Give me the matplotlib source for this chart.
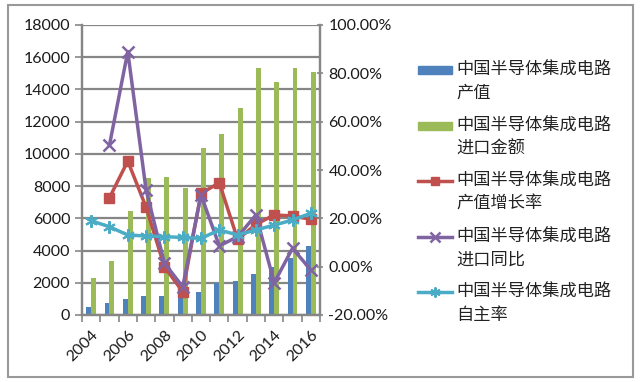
import matplotlib
matplotlib.use("Agg")
import matplotlib.pyplot as plt
import numpy as np
from matplotlib.patches import Rectangle
from matplotlib.lines import Line2D
from matplotlib.ticker import FuncFormatter, FixedLocator

plt.rcParams['font.family'] = ['Lato', 'Noto Sans CJK SC', 'DejaVu Sans']

annees = ['2004', '2005', '2006', '2007', '2008', '2009', '2010',
          '2011', '2012', '2013', '2014', '2015', '2016']
# bars (left axis)
chanzhi = [520, 770, 980, 1200, 1200, 1100, 1450, 1970, 2130, 2520, 3000, 3560, 4290]
jinkou = [2280, 3350, 6460, 8480, 8590, 7860, 10350, 11220, 12850, 15330, 14460, 15330, 15080]
# lines (right axis, fraction)
chanzhi_zeng = [np.nan, 0.285, 0.437, 0.246, 0.0, -0.104, 0.303, 0.347, 0.113, 0.175, 0.214, 0.21, 0.196]
jinkou_tongbi = [np.nan, 0.503, 0.89, 0.317, 0.015, -0.083, 0.297, 0.086, 0.124, 0.214, -0.066, 0.076, -0.014]
zizhu = [0.19, 0.165, 0.131, 0.127, 0.124, 0.121, 0.117, 0.152, 0.131, 0.152, 0.172, 0.193, 0.221]

noms = ['中国半导体集成电路\n产值', '中国半导体集成电路\n进口金额', '中国半导体集成电路\n产值增长率',
        '中国半导体集成电路\n进口同比', '中国半导体集成电路\n自主率']

bleu = '#4F81BD'
vert = '#9BBB59'
rouge = '#C0504D'
violet = '#8064A2'
cyan = '#4BACC6'
gris = '#868686'

W, H = 640, 382
fig = plt.figure(figsize=(6.4, 3.82), dpi=100)
ax = fig.add_axes([82/W, 1-315/H, (320-82)/W, 290/H])
ax2 = ax.twinx()

x = np.arange(len(annees))
w = 0.27
ax.bar(x - w/2, chanzhi, w, color=bleu, zorder=2)
ax.bar(x + w/2, jinkou, w, color=vert, zorder=2)

styles = [dict(color=rouge, lw=2.5, marker='s', ms=7),
          dict(color=violet, lw=2.5, marker='x', ms=9, mew=1.8),
          dict(color=cyan, lw=2.5, marker=(6, 2, 0), ms=9, mew=1.5)]
for serie, st in zip([chanzhi_zeng, jinkou_tongbi, zizhu], styles):
    ax2.plot(x, serie, **st)

ax.set_xlim(-0.5, len(annees) - 0.5)
ax.set_ylim(0, 18000)
ax.set_yticks(np.arange(0, 18001, 2000))
ax2.set_ylim(-0.2, 1.0)
ax2.set_yticks(np.arange(-0.2, 1.001, 0.2))
ax2.yaxis.set_major_formatter(FuncFormatter(lambda v, p: '{:.2f}%'.format(v*100)))

ax.yaxis.grid(True, color=gris, lw=1.6, zorder=0)
ax.set_axisbelow(True)

ax.xaxis.set_major_locator(FixedLocator(x[::2]))
ax.set_xticklabels(annees[::2], rotation=45, ha='right', rotation_mode='anchor')
ax.xaxis.set_minor_locator(FixedLocator(np.arange(-0.5, len(annees), 1)))
ax.tick_params(axis='x', which='major', length=0, pad=9)
ax.tick_params(axis='x', which='minor', length=5, color=gris, width=1.2, direction='out')
ax.tick_params(axis='y', length=5, color=gris, width=1.2, direction='out')
ax2.tick_params(axis='y', length=5, color=gris, width=1.2, direction='inout')
for a in (ax, ax2):
    a.tick_params(labelsize=11.5, labelcolor='#1a1a1a')
    a.spines['top'].set_visible(False)
    for s in ('left', 'right', 'bottom'):
        a.spines[s].set_color(gris)
        a.spines[s].set_linewidth(1.6)

# legende faite a la main (symbole aligne sur la premiere ligne)
hx0, hx1, tx = 418, 452, 456
for i, nom in enumerate(noms):
    y0 = 70 + 55.5*i
    if i < 2:
        c = [bleu, vert][i]
        fig.patches.append(Rectangle((hx0/W, 1-(y0+4)/H), (hx1-hx0)/W, 8/H,
                                     transform=fig.transFigure, color=c))
    else:
        st = dict(styles[i-2])
        st['ms'] = st['ms']*0.8
        fig.lines.append(Line2D([hx0/W, hx1/W], [1-y0/H, 1-y0/H], transform=fig.transFigure,
                                markevery=[], **st))
        fig.lines.append(Line2D([(hx0+hx1)/2/W], [1-y0/H], transform=fig.transFigure,
                                ls='none', **{k: v for k, v in st.items() if k != 'lw'}))
    l1, l2 = nom.split('\n')
    fig.text(tx/W, 1-y0/H, l1, va='center', ha='left', fontsize=12.4,
             family='Noto Sans CJK SC', color='#222222')
    fig.text(tx/W, 1-(y0+23)/H, l2, va='center', ha='left', fontsize=12.4,
             family='Noto Sans CJK SC', color='#222222')

fig.patches.append(Rectangle((8/W, 1-377/H), 625/W, 372/H, transform=fig.transFigure,
                             fill=False, edgecolor='#999999', lw=1.5))

fig.savefig('out.png', dpi=100)
